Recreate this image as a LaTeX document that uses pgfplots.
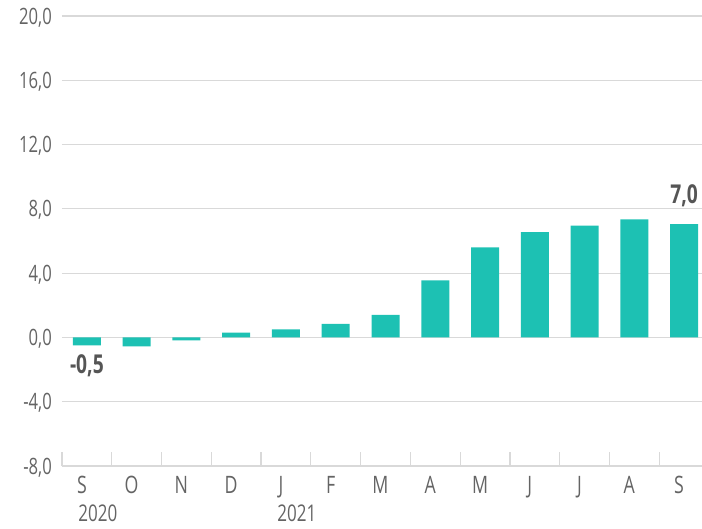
\documentclass[border=0pt]{standalone}
\usepackage{fontspec}
\setmainfont{Open Sans}[FakeStretch=0.74]
\usepackage{pgfplots}
\pgfplotsset{compat=1.18}
\definecolor{barc}{RGB}{29,193,179}
\definecolor{tickc}{RGB}{100,100,100}
\definecolor{labc}{RGB}{85,85,85}
\definecolor{gridc}{RGB}{217,217,217}
\begin{document}
\begin{tikzpicture}
\useasboundingbox (-62pt,-62pt) rectangle (640pt,466pt);
\begin{axis}[
  at={(0pt,0pt)}, anchor=south west,
  scale only axis, width=647pt, height=450pt,
  xmin=-0.5, xmax=12.5, ymin=-8, ymax=20,
  ytick={-8,-4,0,4,8,12,16,20},
  yticklabels={{-8,0},{-4,0},{0,0},{4,0},{8,0},{12,0},{16,0},{20,0}},
  xtick={0,...,12},
  xticklabels={S,O,N,D,J,F,M,A,M,J,J,A,S},
  ymajorgrids, grid style={draw=gridc, line width=1.2pt},
  axis x line*=bottom, axis y line*=left,
  y axis line style={draw=none},
  x axis line style={draw=gridc, line width=1.2pt, -},
  ytick style={draw=none},
  xtick style={draw=none},
  yticklabel style={font=\fontsize{22.5}{26}\selectfont, text=tickc, anchor=base east, inner sep=0pt, xshift=-10pt, yshift=-8pt},
  xticklabel style={font=\fontsize{24}{28}\selectfont, text=tickc, anchor=base, inner sep=0pt, yshift=-27pt, xshift=-5pt},
  extra x ticks={-0.5,0.5,1.5,2.5,3.5,4.5,5.5,6.5,7.5,8.5,9.5,10.5,11.5,12.5},
  extra x tick labels={},
  extra x tick style={grid=none, tick align=inside, major tick length=14pt, xtick style={draw=gridc, line width=1.2pt}},
  clip=false,
]
\addplot[ybar, bar width=28pt, fill=barc, draw=none, bar shift=0pt] coordinates {
 (0,-0.5) (1,-0.55) (2,-0.18) (3,0.3) (4,0.5) (5,0.85) (6,1.4) (7,3.55) (8,5.6) (9,6.55) (10,6.95) (11,7.35) (12,7.05)
};
\node[font=\bfseries\fontsize{26}{30}\selectfont, text=labc, anchor=north, inner sep=0pt] at (axis cs:0,-0.5) [yshift=-9pt] {-0,5};
\node[font=\bfseries\fontsize{26}{30}\selectfont, text=labc, anchor=base, inner sep=0pt] at (axis cs:12,7.05) [yshift=21pt] {7,0};
\node[font=\fontsize{23}{27}\selectfont, text=tickc, anchor=base, inner sep=0pt] at (axis cs:0,-8) [xshift=11pt, yshift=-55pt] {2020};
\node[font=\fontsize{23}{27}\selectfont, text=tickc, anchor=base, inner sep=0pt] at (axis cs:4,-8) [xshift=11pt, yshift=-55pt] {2021};
\end{axis}
\end{tikzpicture}
\end{document}
